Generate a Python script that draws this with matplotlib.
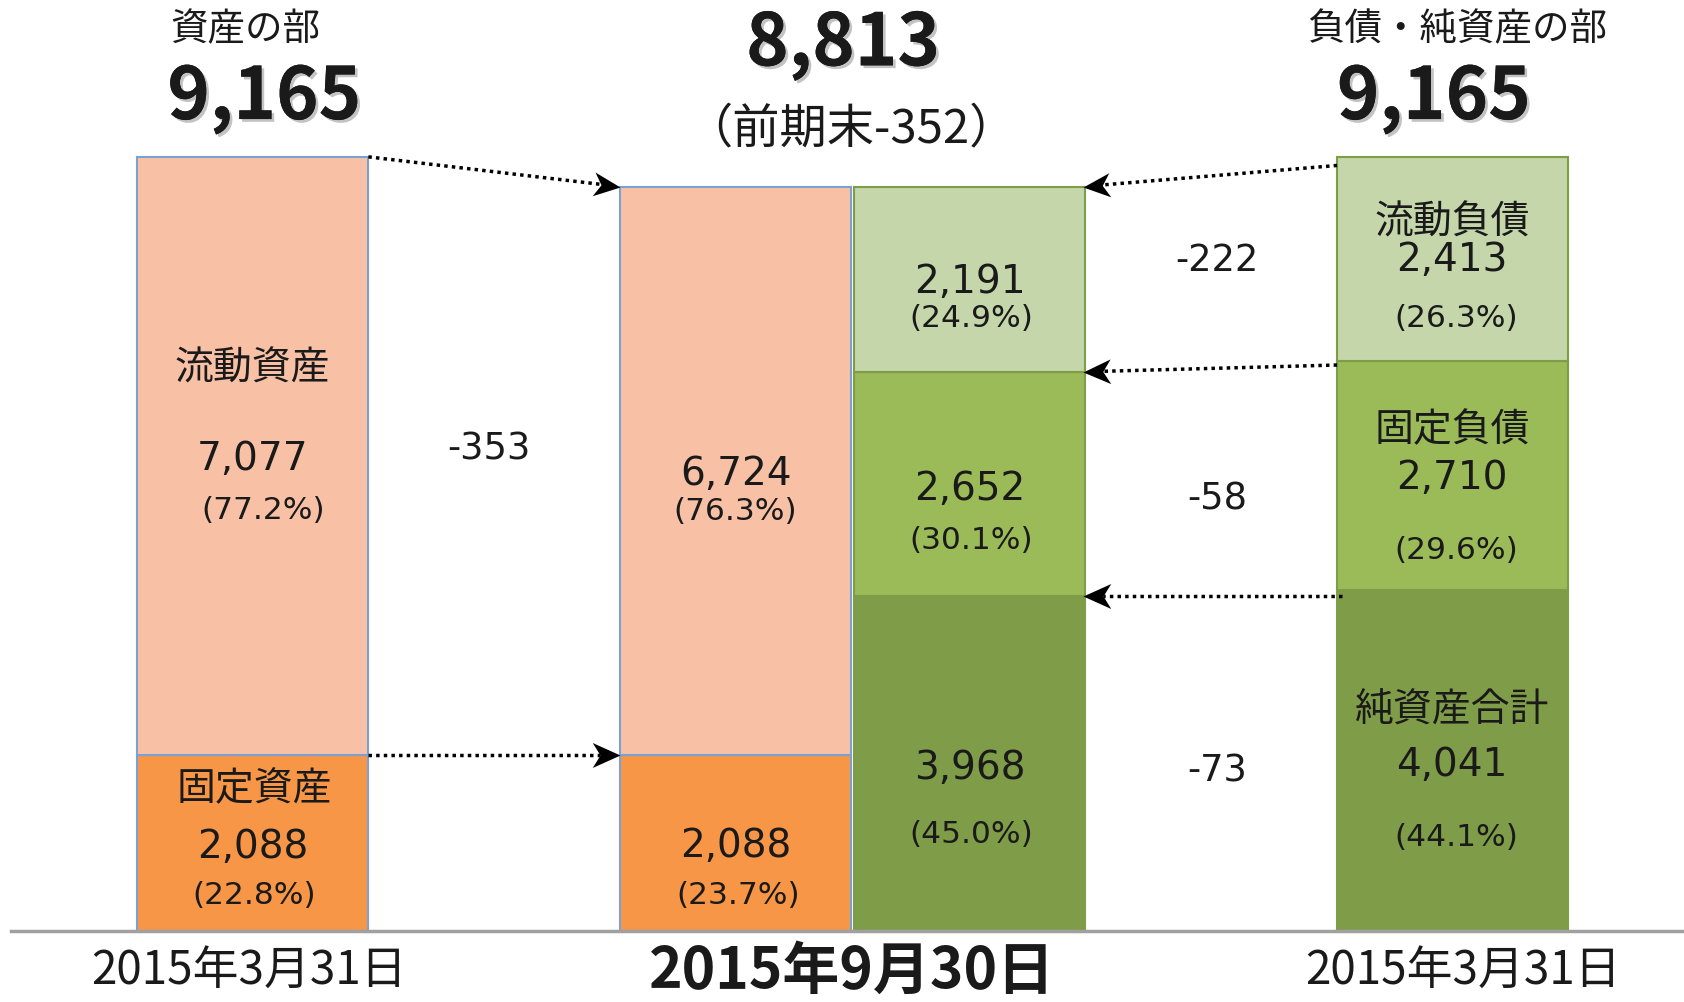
import numpy as np
import matplotlib
matplotlib.use("Agg")
import matplotlib.pyplot as plt
import matplotlib.patheffects as pe
from matplotlib.path import Path

plt.rcParams['font.family'] = ['Noto Sans CJK JP', 'DejaVu Sans']
NUM_FONT = ['DejaVu Sans', 'Noto Sans CJK JP']

# Values (million yen)
total_prev = 9165
total_now = 8813
total_diff = -352

asset_names = ["固定資産", "流動資産"]
assets_prev = [2088, 7077]
assets_prev_pct = ["22.8", "77.2"]
assets_now = [2088, 6724]
assets_now_pct = ["23.7", "76.3"]
asset_diff = -353

liab_names = ["純資産合計", "固定負債", "流動負債"]
liab_prev = [4041, 2710, 2413]
liab_prev_pct = ["44.1", "29.6", "26.3"]
liab_now = [3968, 2652, 2191]
liab_now_pct = ["45.0", "30.1", "24.9"]
liab_diff = [-73, -58, -222]

date_prev = "2015年3月31日"
date_now = "2015年9月30日"

asset_colors = ["#F79646", "#F8C1A6"]
liab_colors = ["#7F9C48", "#9BBB59", "#C4D6AA"]

# layout in reference-pixel units (x) and value units (y)
W, H = 1568, 934
BASE = 868
SCALE = (BASE - 147) / total_prev


def py(y):
    return (BASE - y) / SCALE


fig = plt.figure(figsize=(16.84, 10.03), dpi=100)
ax = fig.add_axes([0, 0, 1, 1])
ax.set_xlim(0, W)
ax.set_ylim(py(H), py(0))
ax.axis("off")

x_left, x_mid_a, x_mid_l, x_right = 235.5, 685, 902.5, 1352.5
bw = 215


def stack(x, vals, colors, edge):
    bottom = 0
    for v, c in zip(vals, colors):
        ax.bar(x, v, width=bw, bottom=bottom, color=c, edgecolor=edge, linewidth=1.5, zorder=2)
        bottom += v


stack(x_left, assets_prev, asset_colors, "#7BA0D4")
stack(x_mid_a, assets_now, asset_colors, "#7BA0D4")
stack(x_mid_l, liab_now, liab_colors, "#7E9D47")
stack(x_right, liab_prev, liab_colors, "#7E9D47")

ax.plot([10, W], [0, 0], color="#A0A0A0", lw=2.5, zorder=3)

shadow = [pe.withSimplePatchShadow(offset=(2, -2), shadow_rgbFace="#888888", alpha=0.5), pe.Normal()]
txt = dict(ha="center", va="center", color="#1A1A1A")


def num(x, y, s, size=28):
    ax.text(x, py(y), s, fontsize=size, family=NUM_FONT, **txt)


def pct(x, y, s):
    ax.text(x, py(y), f"({s}%)", fontsize=22.5, family=NUM_FONT, **txt)


# headers
ax.text(228, py(28), "資産の部", fontsize=27, **txt)
ax.text(246, py(92), f"{total_prev:,}", fontsize=52, fontweight="bold", path_effects=shadow, **txt)
ax.text(785, py(42), f"{total_now:,}", fontsize=52, fontweight="bold", path_effects=shadow, **txt)
ax.text(792, py(120), f"（前期末{total_diff}）", fontsize=34, **txt)
ax.text(1357, py(28), "負債・純資産の部", fontsize=27, **txt)
ax.text(1335, py(92), f"{total_prev:,}", fontsize=52, fontweight="bold", path_effects=shadow, **txt)

# left bar labels
ax.text(235, py(343), asset_names[1], fontsize=28, **txt)
num(235, 427, f"{assets_prev[1]:,}")
pct(245, 475, assets_prev_pct[1])
ax.text(237, py(735), asset_names[0], fontsize=28, **txt)
num(235, 789, f"{assets_prev[0]:,}")
pct(237, 834, assets_prev_pct[0])

# middle asset bar
num(685, 441, f"{assets_now[1]:,}")
pct(685, 476, assets_now_pct[1])
num(685, 788, f"{assets_now[0]:,}")
pct(687, 834, assets_now_pct[0])

# middle liability bar
mid_pos = [(715, 777), (455, 503), (263, 297)]
for v, p, (y1, y2) in zip(liab_now, liab_now_pct, mid_pos):
    num(903, y1, f"{v:,}")
    pct(904, y2, p)

# right bar
right_pos = [(662, 712, 780), (401, 445, 513), (207, 242, 297)]
for n, v, p, (y0, y1, y2) in zip(liab_names, liab_prev, liab_prev_pct, right_pos):
    ax.text(1352, py(y0), n, fontsize=28, **txt)
    num(1352, y1, f"{v:,}")
    pct(1356, y2, p)

# differences
num(455, 418, f"{asset_diff}", 26.5)
for d, y in zip(liab_diff, [718, 465, 243]):
    num(1133, y, f"{d}", 26.5)

# dotted arrows with a stealth-shaped head
head = np.array([(0, 0), (-1, 0.45), (-0.72, 0), (-1, -0.45), (0, 0)])
head_codes = [Path.MOVETO, Path.LINETO, Path.LINETO, Path.LINETO, Path.CLOSEPOLY]


def arrow(x0, y0, x1, y1):
    p0 = ax.transData.transform((x0, y0))
    p1 = ax.transData.transform((x1, y1))
    d = (p1 - p0) / np.hypot(*(p1 - p0))
    # stop the dotted line a little before the tip
    xe, ye = ax.transData.inverted().transform(p1 - d * 20)
    ax.plot([x0, xe], [y0, ye], color="black", lw=2.5, linestyle=(0, (1, 1.2)), zorder=4)
    ang = np.arctan2(d[1], d[0])
    rot = np.array([[np.cos(ang), -np.sin(ang)], [np.sin(ang), np.cos(ang)]])
    ax.plot(x1, y1, marker=Path(head @ rot.T, head_codes), markersize=40,
            color="black", markeredgewidth=0, zorder=5)


arrow(343, total_prev, 577, total_now)
arrow(343, assets_prev[0], 577, assets_now[0])
arrow(1245, py(155), 1008, total_now)
arrow(1245, liab_prev[0] + liab_prev[1] - 50, 1008, liab_now[0] + liab_now[1])
arrow(1250, liab_now[0], 1008, liab_now[0])

# dates
ax.text(232, py(904), date_prev, fontsize=33, **txt)
ax.text(793, py(905), date_now, fontsize=41, fontweight="bold", **txt)
ax.text(1362, py(904), date_prev, fontsize=33, **txt)

fig.savefig("out.png", dpi=100)
